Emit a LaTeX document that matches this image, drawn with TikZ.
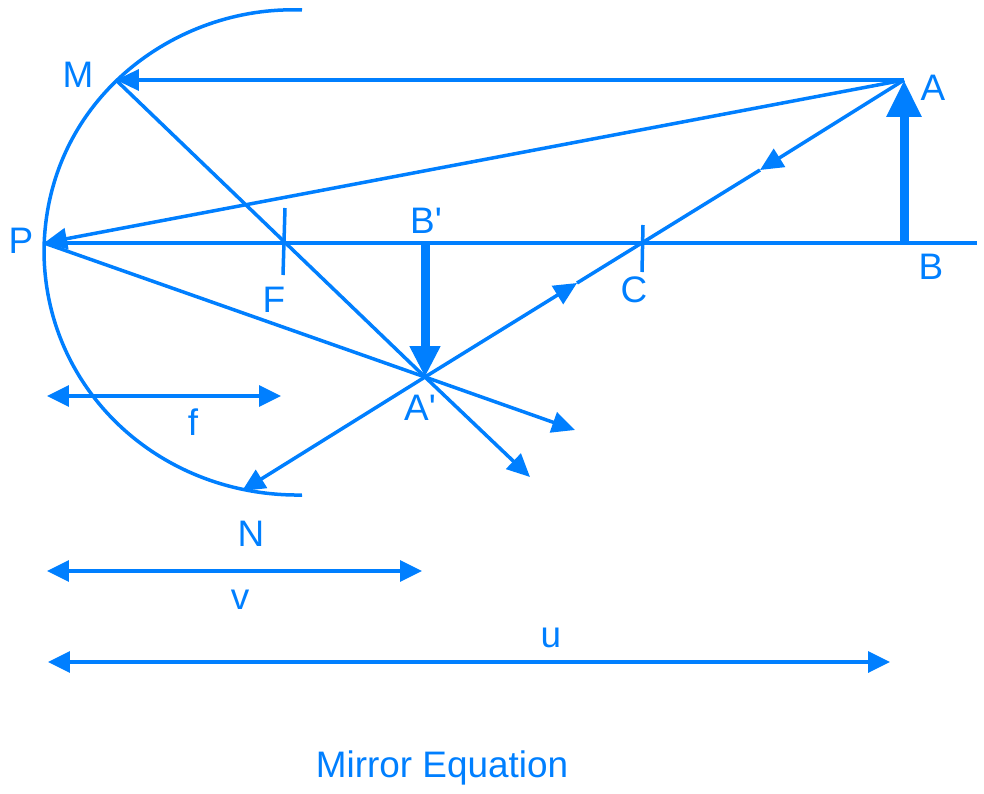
\documentclass[tikz,border=0pt]{standalone}
\usepackage{fontspec}
\setmainfont{Liberation Sans}
\usetikzlibrary{arrows.meta}
\definecolor{raycol}{RGB}{0,127,255}
\tikzset{
    ray/.style={draw=raycol, line width=0.07cm},
    tipray/.style={ray, -{Triangle[length=0.46cm,width=0.42cm]}},
    dimline/.style={ray, {Triangle[length=0.44cm,width=0.42cm]}-{Triangle[length=0.44cm,width=0.42cm]}},
    objarrow/.style={draw=raycol, line width=0.18cm, -{Triangle[length=0.74cm,width=0.66cm]}},
    imgarrow/.style={draw=raycol, line width=0.18cm, -{Triangle[length=0.62cm,width=0.58cm]}},
    lbl/.style={text=raycol, font=\fontsize{21}{25}\selectfont, inner sep=0pt}
}
\begin{document}
\begin{tikzpicture}[x=0.02cm,y=-0.02cm]
    \useasboundingbox (0,0) rectangle (984,794);

    \coordinate (M) at (116,80);
    \coordinate (A) at (904,80);
    \coordinate (P) at (44,243);
    \coordinate (B) at (904,243);
    \coordinate (axisend) at (977,243);
    \coordinate (Bi) at (425,243);
    \coordinate (Ai) at (425,377);
    \coordinate (N) at (242,491);
    \coordinate (Ftop) at (285,208);
    \coordinate (Fbot) at (283,275);
    \coordinate (Ctop) at (643,225);
    \coordinate (Cbot) at (642,272);
    \coordinate (down) at (760,170);
    \coordinate (up) at (577,283);
    \coordinate (outa) at (575,430);
    \coordinate (outb) at (530,477);
    \coordinate (fl) at (47,396);
    \coordinate (fr) at (281,396);
    \coordinate (vl) at (47,571);
    \coordinate (vr) at (422,571);
    \coordinate (ul) at (48,662);
    \coordinate (ur) at (890,662);

    \draw[ray] (302,10) .. controls (175,5) and (46,100) .. (44,250) .. controls (44,390) and (160,497) .. (302,495);

    \draw[ray] (P) -- (axisend);
    \draw[ray] (Ftop) -- (Fbot);
    \draw[ray] (Ctop) -- (Cbot);

    \draw[tipray] (A) -- (M);
    \draw[ray] (M) -- (Ai);
    \draw[tipray] (Ai) -- (outb);
    \draw[tipray] (A) -- (P);
    \draw[ray] (P) -- (Ai);
    \draw[tipray] (Ai) -- (outa);
    \draw[tipray] (A) -- (down);
    \draw[ray] (down) -- (up);
    \draw[tipray] (Ai) -- (up);
    \draw[tipray] (Ai) -- (N);

    \draw[objarrow] (B) -- (A);
    \draw[imgarrow] (Bi) -- (Ai);

    \draw[dimline] (fl) -- (fr);
    \draw[dimline] (vl) -- (vr);
    \draw[dimline] (ul) -- (ur);

    \node[lbl] (lblM) at (78,75) {M};
    \node[lbl] (lblA) at (933,88) {A};
    \node[lbl] (lblP) at (21,241) {P};
    \node[lbl] (lblBi) at (426,221) {B\textquotesingle};
    \node[lbl] (lblB) at (931,267) {B};
    \node[lbl] (lblF) at (274,300) {F};
    \node[lbl] (lblC) at (634,290) {C};
    \node[lbl] (lblAi) at (420,408) {A\textquotesingle};
    \node[lbl] (lblf) at (193,422) {f};
    \node[lbl] (lblN) at (251,534) {N};
    \node[lbl] (lblv) at (240,600) {v};
    \node[lbl] (lblu) at (551,638) {u};
    \node[lbl] (title) at (442,768) {Mirror Equation};
\end{tikzpicture}
\end{document}
